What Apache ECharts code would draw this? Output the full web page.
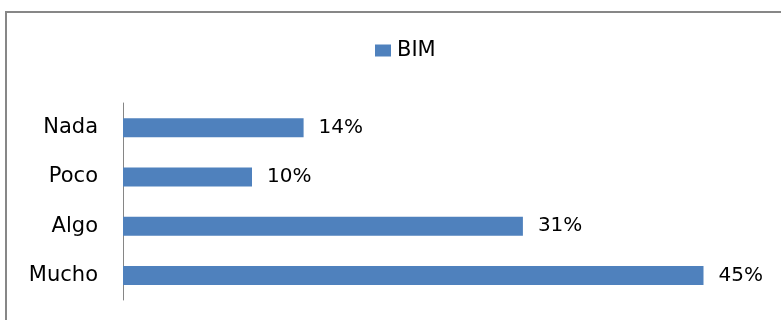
<!DOCTYPE html>
<html>
<head>
<meta charset="utf-8">
<script src="https://cdn.jsdelivr.net/npm/echarts@6/dist/echarts.min.js"></script>
<style>
  html, body { margin: 0; padding: 0; background: #fff; }
  #chart { width: 781px; height: 320px; }
</style>
</head>
<body>
<div id="chart"></div>
<script>
// datos (de arriba a abajo)
var categorias = ['Nada', 'Poco', 'Algo', 'Mucho']
var valoresBIM = [14, 10, 31, 45]
var serieNombre = 'BIM'

var myChart = echarts.init(document.getElementById('chart'))

var fuente = '"DejaVu Sans", sans-serif'

var option = {
    backgroundColor: '#fff',
    animation: false,
    graphic: [{
        type: 'rect',
        shape: { x: 6, y: 12, width: 820, height: 340 },
        style: { fill: 'none', stroke: '#878787', lineWidth: 2 },
        silent: true
    }],
    legend: {
        data: [serieNombre],
        left: 375,
        top: 40,
        padding: 0,
        itemWidth: 16,
        itemHeight: 12,
        itemGap: 6,
        icon: 'rect',
        textStyle: { fontFamily: fuente, fontSize: 21, color: '#000', padding: [0, 0, 0, 1] }
    },
    grid: { left: 123, right: 13, top: 103, bottom: 20, containLabel: false },
    xAxis: {
        type: 'value',
        min: 0,
        max: 50,
        show: false
    },
    yAxis: {
        type: 'category',
        data: categorias,
        inverse: true,
        axisLine: { show: true, lineStyle: { color: '#868686', width: 1 } },
        axisTick: { show: false },
        axisLabel: { margin: 25, fontFamily: fuente, fontSize: 21, color: '#000' }
    },
    series: [{
        name: serieNombre,
        type: 'bar',
        data: valoresBIM,
        barWidth: 19,
        itemStyle: { color: '#4F81BD' },
        label: {
            show: true,
            position: 'right',
            distance: 15,
            formatter: '{c}%',
            fontFamily: fuente,
            fontSize: 20,
            color: '#000'
        }
    }]
}
myChart.setOption(option)
</script>
</body>
</html>
